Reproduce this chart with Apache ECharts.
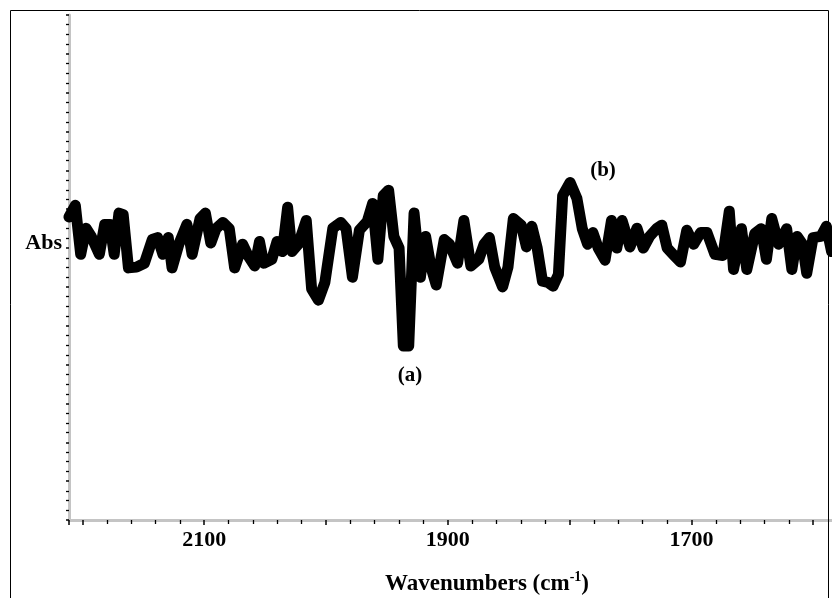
<!DOCTYPE html>
<html>
<head>
<meta charset="utf-8">
<script src="https://cdn.jsdelivr.net/npm/echarts@6/dist/echarts.min.js"></script>
<style>
html,body{margin:0;padding:0;background:#fff;}
#chart{width:832px;height:598px;}
</style>
</head>
<body>
<div id="chart"></div>
<script>
// Wavenumber (cm-1) positions
var wavenumbers = [2211.0,2205.8,2201.4,2197.0,2192.7,2186.1,2181.7,2177.4,2173.9,2170.0,2166.5,2162.2,2155.6,2149.1,2142.6,2138.2,2133.9,2129.5,2126.4,2120.8,2114.2,2109.9,2103.4,2099.0,2094.6,2090.3,2084.6,2079.4,2075.0,2068.5,2064.1,2058.5,2054.6,2051.1,2044.5,2040.2,2035.8,2031.5,2028.0,2022.7,2016.2,2011.8,2006.2,2000.9,1994.4,1987.9,1983.5,1978.3,1972.6,1966.1,1961.7,1957.4,1953.0,1948.6,1944.3,1940.0,1936.5,1932.1,1927.7,1922.5,1918.2,1913.8,1909.5,1902.9,1898.6,1892.0,1886.8,1881.1,1874.6,1870.2,1865.9,1861.5,1855.0,1850.6,1846.2,1839.7,1835.4,1831.0,1826.6,1822.3,1817.9,1813.6,1809.2,1805.7,1799.6,1794.0,1789.6,1785.2,1780.9,1776.5,1770.9,1765.6,1761.3,1756.9,1750.4,1744.7,1739.5,1734.3,1728.6,1724.3,1719.9,1714.2,1709.0,1703.8,1698.1,1692.4,1687.2,1680.7,1674.1,1668.9,1665.4,1658.9,1654.5,1648.0,1642.7,1638.4,1634.0,1628.4,1621.8,1617.5,1613.2,1608.8,1605.3,1600.1,1593.6,1589.2,1584.9];
// Absorbance (arbitrary units) at each wavenumber
var absorbance = [0.780,0.810,0.684,0.751,0.730,0.684,0.761,0.761,0.684,0.790,0.786,0.649,0.651,0.661,0.722,0.727,0.684,0.727,0.649,0.710,0.761,0.684,0.776,0.790,0.713,0.750,0.766,0.750,0.649,0.710,0.681,0.654,0.717,0.661,0.671,0.717,0.691,0.805,0.691,0.710,0.771,0.595,0.566,0.612,0.751,0.766,0.750,0.625,0.746,0.769,0.815,0.671,0.835,0.849,0.730,0.700,0.448,0.448,0.790,0.625,0.730,0.651,0.605,0.722,0.710,0.661,0.771,0.654,0.671,0.710,0.727,0.651,0.600,0.651,0.776,0.759,0.703,0.756,0.700,0.615,0.612,0.602,0.632,0.835,0.869,0.828,0.750,0.710,0.740,0.700,0.669,0.771,0.700,0.771,0.703,0.751,0.700,0.730,0.750,0.759,0.700,0.681,0.664,0.746,0.710,0.740,0.740,0.684,0.681,0.795,0.645,0.750,0.645,0.737,0.750,0.671,0.776,0.710,0.750,0.645,0.730,0.710,0.635,0.727,0.730,0.756,0.691];
// Labelled x-axis tick values
var xTickLabels = [2100, 1900, 1700];
var yAxisName = 'Abs';
var xAxisTitle = 'Wavenumbers (cm';
var xAxisTitleSup = '-1';
var peakLabels = ['(a)', '(b)'];

var seriesData = wavenumbers.map(function (w, i) { return [w, absorbance[i]]; });
var serif = '"Liberation Serif","Times New Roman",serif';

var chart = echarts.init(document.getElementById('chart'), null, {renderer: 'canvas'});
chart.setOption({
  animation: false,
  backgroundColor: '#ffffff',
  grid: {left: 69, top: 15, width: 866, height: 505, containLabel: false, outerBoundsMode: 'none'},
  xAxis: {
    type: 'value',
    inverse: true,
    min: 1500,
    max: 2211,
    interval: 100,
    axisLine: {show: true, lineStyle: {color: '#c4c4c4', width: 3}},
    axisTick: {show: true, length: 5, lineStyle: {color: '#000', width: 1.5}},
    minorTick: {show: true, splitNumber: 5, length: 4, lineStyle: {color: '#000', width: 1.3}},
    splitLine: {show: false},
    axisLabel: {
      show: true, margin: 9, color: '#000',
      fontFamily: serif, fontWeight: 'bold', fontSize: 22,
      formatter: function (v) { return xTickLabels.indexOf(v) >= 0 ? String(v) : ''; }
    }
  },
  yAxis: {
    type: 'value',
    min: 0,
    max: 1.3,
    interval: 0.1,
    axisLine: {show: true, lineStyle: {color: '#c4c4c4', width: 3}},
    axisTick: {show: true, inside: false, length: 3, lineStyle: {color: '#000', width: 1.5}},
    minorTick: {show: true, splitNumber: 4, length: 3, lineStyle: {color: '#000', width: 1.3}},
    splitLine: {show: false},
    axisLabel: {show: false}
  },
  series: [{
    type: 'line',
    data: seriesData,
    showSymbol: false,
    clip: false,
    lineStyle: {color: '#000', width: 11, cap: 'round', join: 'round'}
  }],
  graphic: [
    {type: 'rect', shape: {x: 10.5, y: 10.5, width: 818, height: 600},
     style: {fill: 'none', stroke: '#000', lineWidth: 1}, z: 100},
    {type: 'text', x: 62, y: 243,
     style: {text: yAxisName, font: 'bold 22px ' + serif, fill: '#000', textAlign: 'right', textVerticalAlign: 'middle'}},
    {type: 'text', x: 410, y: 376,
     style: {text: peakLabels[0], font: 'bold 21px ' + serif, fill: '#000', textAlign: 'center', textVerticalAlign: 'middle'}},
    {type: 'text', x: 603, y: 171,
     style: {text: peakLabels[1], font: 'bold 21px ' + serif, fill: '#000', textAlign: 'center', textVerticalAlign: 'middle'}},
    {type: 'text', x: 487, y: 583,
     style: {
       text: '{t|' + xAxisTitle + '}{s|' + xAxisTitleSup + '}{t|)}',
       textAlign: 'center', textVerticalAlign: 'middle',
       rich: {
         t: {fontFamily: serif, fontWeight: 'bold', fontSize: 23, fill: '#000', color: '#000', lineHeight: 26, verticalAlign: 'bottom'},
         s: {fontFamily: serif, fontWeight: 'bold', fontSize: 14, fill: '#000', color: '#000', lineHeight: 26, verticalAlign: 'top'}
       }
     }}
  ]
});
</script>
</body>
</html>
